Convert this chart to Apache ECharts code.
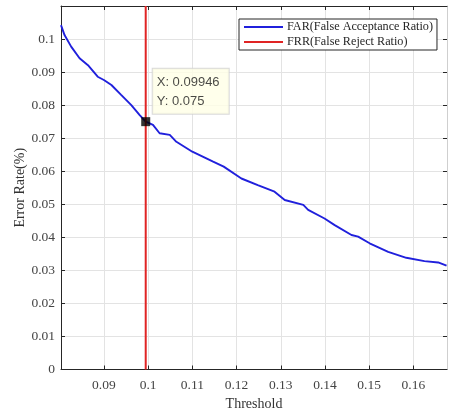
<!DOCTYPE html>
<html>
<head>
<meta charset="utf-8">
<script src="https://cdn.jsdelivr.net/npm/echarts@6/dist/echarts.min.js"></script>
<style>
  html, body { margin: 0; padding: 0; background: #fff; }
  #chart { width: 449px; height: 412px; }
</style>
</head>
<body>
<div id="chart"></div>
<script>
// FAR curve: error rate against decision threshold
const thresholds = [0.0803, 0.0811, 0.0826, 0.0845, 0.0864, 0.0886, 0.0900, 0.0917, 0.0939, 0.0962,
  0.0981, 0.09946, 0.1011, 0.1026, 0.1049, 0.1064, 0.1100, 0.1147, 0.1171, 0.1211,
  0.1248, 0.1286, 0.1309, 0.1351, 0.1362, 0.1399, 0.1422, 0.1460, 0.1475, 0.1501,
  0.1543, 0.1584, 0.1625, 0.1656, 0.1675];
const farValues = [0.1042, 0.1012, 0.0977, 0.0942, 0.0921, 0.0886, 0.0876, 0.0861, 0.0831, 0.0800,
  0.0770, 0.0750, 0.0740, 0.0715, 0.0710, 0.0689, 0.0659, 0.0629, 0.0614, 0.0578,
  0.0558, 0.0538, 0.0513, 0.0498, 0.0483, 0.0457, 0.0437, 0.0407, 0.0402, 0.0382,
  0.0356, 0.0338, 0.0328, 0.0324, 0.0314];

// FRR shown as a vertical line at the chosen threshold
const frrThreshold = 0.09946;
const frrSpan = [0, 0.11];

// Data tip point
const tipPoint = [0.09946, 0.075];

// Axis ticks
const xTicks = [0.09, 0.10, 0.11, 0.12, 0.13, 0.14, 0.15, 0.16];
const xRange = [0.0803, 0.1676];
const yRange = [0, 0.11];
const yStep = 0.01;

const serif = 'Liberation Serif';
const axisColor = '#262626';
const gridColor = '#e3e3e3';
const farColor = '#2020dc';
const frrColor = '#e02424';
const lineIcon = 'path://M0,0H40V2H0Z';

const fmt = v => String(+v.toFixed(2));

const chart = echarts.init(document.getElementById('chart'), null, { renderer: 'canvas' });

const xBase = {
  type: 'value', min: xRange[0], max: xRange[1],
  axisLine: { show: true, onZero: false, lineStyle: { color: axisColor, width: 1 } },
  axisTick: { show: true, inside: true, length: 4, customValues: xTicks, lineStyle: { color: axisColor } },
  splitLine: { show: false }
};
const yBase = {
  type: 'value', min: yRange[0], max: yRange[1], interval: yStep,
  axisLine: { show: true, onZero: false, lineStyle: { color: axisColor, width: 1 } },
  axisTick: { show: true, inside: true, length: 4, lineStyle: { color: axisColor } },
  splitLine: { show: false }
};

chart.setOption({
  animation: false,
  backgroundColor: '#fff',
  grid: { left: 61, right: 2, top: 6, bottom: 42.5, containLabel: false, outerBoundsMode: 'none' },
  legend: {
    orient: 'vertical',
    left: 239, top: 19,
    padding: [2, 4, 2, 5],
    itemWidth: 39, itemHeight: 12, itemGap: 3,
    backgroundColor: '#fff',
    borderColor: '#262626', borderWidth: 1,
    data: [
      { name: 'FAR(False Acceptance Ratio)', icon: lineIcon },
      { name: 'FRR(False Reject Ratio)', icon: lineIcon }
    ],
    textStyle: { fontFamily: serif, fontSize: 12.2, color: '#262626', padding: [0, 0, 0, -1] }
  },
  xAxis: [
    Object.assign({}, xBase, {
      position: 'bottom',
      name: 'Threshold', nameLocation: 'middle', nameGap: 28, nameMoveOverlap: false,
      nameTextStyle: { fontFamily: serif, fontSize: 14, color: '#333' },
      axisLabel: { show: true, customValues: xTicks, margin: 9, formatter: fmt,
        fontFamily: serif, fontSize: 13.5, color: '#444' },
      splitLine: { show: true, lineStyle: { color: gridColor, width: 1 } }
    }),
    Object.assign({}, xBase, { position: 'top', axisLabel: { show: false } })
  ],
  yAxis: [
    Object.assign({}, yBase, {
      position: 'left',
      name: 'Error Rate(%)', nameLocation: 'middle', nameGap: 34, nameMoveOverlap: false,
      nameTextStyle: { fontFamily: serif, fontSize: 14, color: '#333' },
      axisLabel: { show: true, margin: 6, showMaxLabel: false,
        formatter: v => (v > 0.105 ? '' : fmt(v)),
        fontFamily: serif, fontSize: 13.5, color: '#444' },
      splitLine: { show: true, lineStyle: { color: gridColor, width: 1 } }
    }),
    Object.assign({}, yBase, { position: 'right', axisLabel: { show: false },
      axisLine: { show: true, onZero: false, lineStyle: { color: '#cfcfcf', width: 1 } } })
  ],
  series: [
    {
      name: 'FAR(False Acceptance Ratio)',
      type: 'line',
      xAxisIndex: 0, yAxisIndex: 0,
      symbol: 'none',
      smooth: false,
      data: thresholds.map((t, i) => [t, farValues[i]]),
      lineStyle: { color: farColor, width: 1.9 },
      itemStyle: { color: farColor },
      z: 3
    },
    {
      name: 'FRR(False Reject Ratio)',
      type: 'line',
      xAxisIndex: 0, yAxisIndex: 0,
      symbol: 'none',
      data: frrSpan.map(v => [frrThreshold, v]),
      lineStyle: { color: frrColor, width: 2 },
      itemStyle: { color: frrColor },
      z: 4
    },
    {
      name: 'tip',
      type: 'scatter',
      xAxisIndex: 0, yAxisIndex: 0,
      symbol: 'rect',
      symbolSize: 9,
      itemStyle: { color: '#000' },
      data: [tipPoint],
      z: 6,
      label: {
        show: true,
        position: [11.5, -48.5],
        align: 'left',
        verticalAlign: 'top',
        formatter: p => 'X: ' + p.value[0] + '\nY: ' + p.value[1],
        fontFamily: 'Liberation Sans',
        fontSize: 13,
        lineHeight: 19,
        color: '#1a1a1a',
        backgroundColor: '#ffffe6',
        borderColor: '#cfcfcf',
        borderWidth: 1,
        padding: [4, 6, 3, 4],
        width: 66
      }
    }
  ]
});
</script>
</body>
</html>
